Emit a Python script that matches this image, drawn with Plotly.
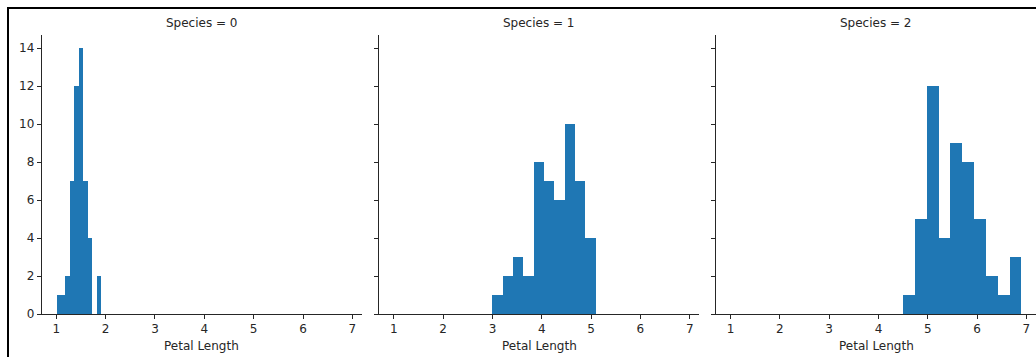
import plotly.graph_objects as go

# Histogram data (10 bins per species), petal length
species = ["0", "1", "2"]
edges_0 = [1.0, 1.09, 1.18, 1.27, 1.36, 1.45, 1.54, 1.63, 1.72, 1.81, 1.9]
counts_0 = [1, 1, 2, 7, 12, 14, 7, 4, 0, 2]
edges_1 = [3.0, 3.21, 3.42, 3.63, 3.84, 4.05, 4.26, 4.47, 4.68, 4.89, 5.1]
counts_1 = [1, 2, 3, 2, 8, 7, 6, 10, 7, 4]
edges_2 = [4.5, 4.74, 4.98, 5.22, 5.46, 5.70, 5.94, 6.18, 6.42, 6.66, 6.9]
counts_2 = [1, 5, 12, 4, 9, 8, 5, 2, 1, 3]
x_ticks = [1, 2, 3, 4, 5, 6, 7]
y_ticks = [0, 2, 4, 6, 8, 10, 12, 14]

all_edges = [edges_0, edges_1, edges_2]
all_counts = [counts_0, counts_1, counts_2]

W, H = 1036, 357
BLUE = "#1f77b4"
INK = "#262626"

fig = go.Figure()

x_domains = [[41.7 / W, 362.0 / W], [379.3 / W, 699.3 / W], [716.0 / W, 1.0]]
y_domain = [(H - 314.0) / H, (H - 35.0) / H]

for i, (edges, counts) in enumerate(zip(all_edges, all_counts)):
    lefts = edges[:-1]
    widths = [edges[k + 1] - edges[k] for k in range(len(counts))]
    sfx = "" if i == 0 else str(i + 1)
    fig.add_trace(go.Bar(
        x=lefts, y=counts, width=widths, offset=0,
        marker=dict(color=BLUE, line=dict(width=0)),
        xaxis="x" + sfx, yaxis="y" + sfx, showlegend=False,
        hoverinfo="x+y",
    ))

axis_common = dict(
    showline=True, linecolor=INK, linewidth=1, ticks="outside", ticklen=4,
    tickwidth=1, tickcolor=INK, showgrid=False, zeroline=False,
    automargin=False,
    tickfont=dict(family="DejaVu Sans", size=12, color=INK),
)

layout = dict(
    width=W, height=H, margin=dict(l=0, r=0, t=0, b=0, pad=0, autoexpand=False),
    plot_bgcolor="white", paper_bgcolor="white", bargap=0,
    font=dict(family="DejaVu Sans", size=12, color=INK),
)

for i in range(3):
    sfx = "" if i == 0 else str(i + 1)
    layout["xaxis" + sfx] = dict(
        axis_common, domain=x_domains[i], range=[0.705, 7.195],
        tickvals=x_ticks, anchor="y" + sfx,
    )
    layout["yaxis" + sfx] = dict(
        axis_common, domain=y_domain, range=[0, 14.7], tickvals=y_ticks,
        anchor="x" + sfx, showticklabels=(i == 0),
        matches=None if i == 0 else "y",
    )

fig.update_layout(**layout)

annotations = []
for i, s in enumerate(species):
    cx = (x_domains[i][0] + (x_domains[i][1] if i < 2 else 1036.3 / W)) / 2
    annotations.append(dict(
        text="Species = " + s, x=cx, y=(H - 23.0) / H, xref="paper", yref="paper",
        showarrow=False, xanchor="center", yanchor="middle",
        font=dict(family="DejaVu Sans", size=12, color=INK),
    ))
    annotations.append(dict(
        text="Petal Length", x=cx, y=(H - 346.0) / H, xref="paper", yref="paper",
        showarrow=False, xanchor="center", yanchor="middle",
        font=dict(family="DejaVu Sans", size=12, color=INK),
    ))
fig.update_layout(annotations=annotations)

# outer frame (left and top edges visible)
fig.add_shape(type="rect", xref="paper", yref="paper",
              x0=8.0 / W, x1=1.05, y0=-0.05, y1=(H - 8.0) / H,
              line=dict(color="black", width=2), fillcolor="rgba(0,0,0,0)")

fig.write_html("out.html")
